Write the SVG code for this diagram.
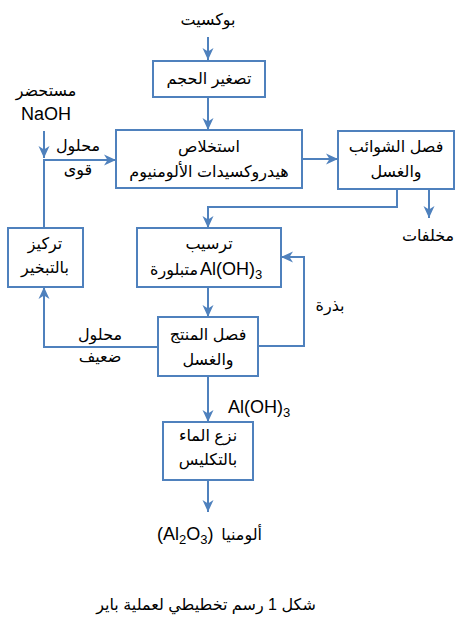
<svg xmlns="http://www.w3.org/2000/svg" width="473" height="623" viewBox="0 0 473 623">
<style>
.box{fill:#fff;stroke:#4f81bd;stroke-width:2}
.c{fill:none;stroke:#4f81bd;stroke-width:2;marker-end:url(#ah)}
.cn{fill:none;stroke:#4f81bd;stroke-width:2}
text{font-family:"Liberation Sans","DejaVu Sans",sans-serif;font-size:16px;fill:#000}
.m{text-anchor:middle}
.e{text-anchor:end}
.s{text-anchor:start}
.lat{font-size:18px}
</style>
<defs>
<marker id="ah" markerUnits="userSpaceOnUse" viewBox="0 0 12 12" refX="12" refY="6" markerWidth="12" markerHeight="12" orient="auto">
<path d="M0,0.5 L12,6 L0,11.5 L3.5,6 z" fill="#4f81bd"/>
</marker>
</defs>
<rect width="473" height="623" fill="#fff"/>
<g id="connectors">
<path class="c" d="M208,37 V60"/>
<path class="c" d="M208,97 V130"/>
<path class="c" d="M302,159 H338"/>
<path class="c" d="M429,189 V218"/>
<path class="c" d="M397,189 V207 H208 V228"/>
<path class="c" d="M208,287 V317"/>
<path class="c" d="M258,346 H304 V257 H281"/>
<path class="c" d="M158,347 H44 V287"/>
<path class="c" d="M44,228 V160 H116"/>
<path class="c" d="M44,131 V158"/>
<path class="c" d="M208,376 V422"/>
<path class="c" d="M208,480 V512"/>
</g>
<g id="bauxite"><text class="m" x="208" y="25" direction="rtl">بوكسيت</text></g>
<g id="crush">
<rect class="box" x="153" y="61" width="112" height="36"/>
<text class="m" x="209" y="84" direction="rtl">تصغير الحجم</text>
</g>
<g id="extract">
<rect class="box" x="116" y="130" width="186" height="58"/>
<text class="m" x="209" y="152" direction="rtl">استخلاص</text>
<text class="m" x="209" y="177" direction="rtl">هيدروكسيدات الألومنيوم</text>
</g>
<g id="separate">
<rect class="box" x="338" y="131" width="116" height="58"/>
<text class="m" x="396" y="152" direction="rtl">فصل الشوائب</text>
<text class="m" x="396" y="177" direction="rtl">والغسل</text>
</g>
<g id="waste"><text class="m" x="428" y="241" direction="rtl">مخلفات</text></g>
<g id="precipitate">
<rect class="box" x="137" y="228" width="144" height="59"/>
<text class="m" x="209" y="249" direction="rtl">ترسيب</text>
<text class="e" x="198" y="275" direction="ltr">متبلورة</text>
<text class="s lat" x="200" y="275">Al(OH)<tspan font-size="13" dy="4">3</tspan></text>
</g>
<g id="product">
<rect class="box" x="158" y="317" width="100" height="59"/>
<text class="m" x="208" y="340" direction="rtl">فصل المنتج</text>
<text class="m" x="208" y="365" direction="rtl">والغسل</text>
</g>
<g id="seed"><text class="m" x="330" y="311" direction="rtl">بذرة</text></g>
<g id="evaporate">
<rect class="box" x="8" y="228" width="75" height="59"/>
<text class="m" x="45" y="249" direction="rtl">تركيز</text>
<text class="m" x="45" y="273" direction="rtl">بالتبخير</text>
</g>
<g id="weak">
<text class="m" x="100" y="340" direction="rtl">محلول</text>
<text class="m" x="100" y="362" direction="rtl">ضعيف</text>
</g>
<g id="naoh">
<text class="m" x="46" y="96" direction="rtl">مستحضر</text>
<text class="m lat" x="46" y="120">NaOH</text>
</g>
<g id="strong">
<text class="m" x="78" y="151" direction="rtl">محلول</text>
<text class="m" x="78" y="175" direction="rtl">قوى</text>
</g>
<g id="aloh3"><text class="s lat" x="228" y="413">Al(OH)<tspan font-size="13" dy="4">3</tspan></text></g>
<g id="calcine">
<rect class="box" x="163" y="422" width="90" height="58"/>
<text class="m" x="208" y="441" direction="rtl">نزع الماء</text>
<text class="m" x="208" y="465" direction="rtl">بالتكليس</text>
</g>
<g id="alumina">
<text class="e" x="262" y="540" direction="ltr">ألومنيا</text>
<text class="s lat" x="157" y="540">(Al<tspan font-size="13" dy="4">2</tspan><tspan dy="-4">O</tspan><tspan font-size="13" dy="4">3</tspan><tspan dy="-4">)</tspan></text>
</g>
<g id="caption"><text class="m" x="206" y="610" direction="rtl" font-size="17">شكل 1 رسم تخطيطي لعملية باير</text></g>
</svg>
